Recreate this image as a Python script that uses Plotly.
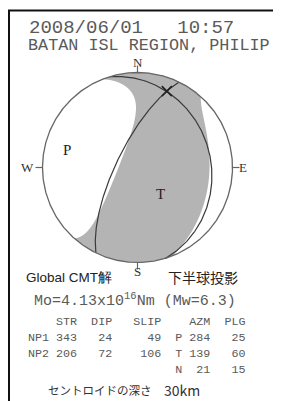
import numpy as np
import plotly.graph_objects as go

# ---------------- data ----------------
date_time = "2008/06/01   10:57"
region = "BATAN ISL REGION, PHILIP"
mo_mant = "4.13"
mo_exp = "16"
mw = "6.3"
depth_km = 30
plane_names = ["NP1", "NP2"]
strike = [343, 206]
dip = [24, 72]
slip = [49, 106]
axis_names = ["P", "T", "N"]
axis_azm = [284, 139, 21]
axis_plg = [25, 60, 15]
# relative principal moments (T, N, P) used for the shaded radiation pattern (estimated)
eig = [1.0, 0.28, -1.3]

# ---------------- layout constants ----------------
W, H = 281, 401          # page size
OFF = 8                  # default body margin of the html page
CX, CY, R = 137.5, 167.5, 95.0
GRAY = "#b4b4b4"
TXT = "#5a5a5a"


def vec(az, pl):
    a, p = np.radians(az), np.radians(pl)
    return np.array([np.cos(p) * np.cos(a), np.cos(p) * np.sin(a), np.sin(p)])


def project(U):
    U = U / np.linalg.norm(U, axis=0)
    pl = np.arcsin(np.clip(U[2], -1, 1))
    az = np.arctan2(U[1], U[0])
    r = R * np.sqrt(2) * np.sin((np.pi / 2 - pl) / 2)
    return CX + r * np.sin(az), CY - r * np.cos(az)


def rim(az_deg):
    a = np.radians(az_deg)
    return CX + R * np.sin(a), CY - R * np.cos(a)


def arc(a0, a1, through, n=200):
    delta = (a1 - a0) % 360
    if (through - a0) % 360 <= delta:
        return a0 + np.linspace(0, delta, n)
    return a0 - np.linspace(0, 360 - delta, n)


def lobe(U, center_az):
    neg = np.where(U[2] < 0)[0]
    if len(neg) == 0:
        return project(U)
    U = np.roll(U, -neg[0], axis=1)
    pos = np.where(U[2] >= 0)[0]
    if len(pos) == 0:
        return None
    seg = U[:, pos[0]:pos[-1] + 1]
    x, y = project(seg)
    az_s = np.degrees(np.arctan2(seg[1, 0], seg[0, 0]))
    az_e = np.degrees(np.arctan2(seg[1, -1], seg[0, -1]))
    rx, ry = rim(arc(az_e, az_s, center_az))
    return np.concatenate([x, rx, x[:1]]), np.concatenate([y, ry, y[:1]])


fig = go.Figure()

# gray disk (compressional background)
ca = np.linspace(0, 360, 721)
cx, cy = rim(ca)
fig.add_trace(go.Scatter(x=cx, y=cy, fill="toself", fillcolor=GRAY, mode="none",
                         hoverinfo="skip"))

# dilatational (white) lobes from the moment tensor cone around P
pv = vec(axis_azm[0], axis_plg[0])
tv = vec(axis_azm[1], axis_plg[1])
nv = vec(axis_azm[2], axis_plg[2])
lt, ln, lp = eig
psi = np.linspace(0, 2 * np.pi, 2881)[:-1]
den = lt * np.cos(psi) ** 2 + ln * np.sin(psi) ** 2
alpha = np.arctan(np.sqrt(-lp / den))
U = np.cos(alpha) * pv[:, None] + np.sin(alpha) * (np.cos(psi) * tv[:, None] + np.sin(psi) * nv[:, None])
for UU, caz in [(U, axis_azm[0]), (-U, (axis_azm[0] + 180) % 360)]:
    res = lobe(UU, caz)
    if res is not None:
        fig.add_trace(go.Scatter(x=res[0], y=res[1], fill="toself", fillcolor="white",
                                 mode="none", hoverinfo="skip"))

# nodal planes
th = np.linspace(0, np.pi, 301)
for s, dp in zip(strike, dip):
    sv = vec(s, 0)
    dv = vec(s + 90, dp)
    Up = np.cos(th) * sv[:, None] + np.sin(th) * dv[:, None]
    x, y = project(Up)
    fig.add_trace(go.Scatter(x=x, y=y, mode="lines", line=dict(color="#3a3a3a", width=1.2),
                             hoverinfo="skip"))

# outline
fig.add_trace(go.Scatter(x=cx, y=cy, mode="lines", line=dict(color="#666666", width=1.3),
                         hoverinfo="skip"))

# ticks
for a in [0, 90, 180, 270]:
    x0, y0 = rim(a)
    rr = np.radians(a)
    fig.add_shape(type="line", x0=x0, y0=y0, x1=x0 + 7 * np.sin(rr), y1=y0 - 7 * np.cos(rr),
                  line=dict(color="#666666", width=1.2))

# N axis marker
nx, ny = project(nv[:, None])
fig.add_trace(go.Scatter(x=nx, y=ny, mode="markers",
                         marker=dict(symbol="x-thin", size=10, color="#222",
                                     line=dict(color="#222", width=1.6)),
                         hoverinfo="skip"))

serif = "Liberation Serif, Times New Roman, serif"
mono = "Liberation Mono, Courier New, monospace"
sans = "Liberation Sans, Arial, sans-serif"
cjk = "Noto Sans CJK JP, sans-serif"


def text(x, y, t, size, color, family, xanchor="left"):
    fig.add_annotation(x=x, y=y, text=t, showarrow=False, xanchor=xanchor, yanchor="middle",
                       font=dict(size=size, color=color, family=family), xref="x", yref="y")


# P and T labels
for i in range(2):
    px, py = project(vec(axis_azm[i], axis_plg[i])[:, None])
    text(px[0], py[0], axis_names[i], 15, "#222", serif, "center")

# compass letters
text(CX, 62, "N", 13, "#333", serif, "center")
text(CX, 271, "S", 13, "#333", serif, "center")
text(27.5, CY, "W", 13, "#333", serif, "center")
text(243, CY, "E", 13, "#333", serif, "center")

nb = "\u00a0"
# titles
text(27, 28, date_time.replace(" ", nb), 19, TXT, mono)
text(26, 45, region.replace(" ", nb), 16.8, TXT, mono)

text(24, 277, "Global CMT解", 13.5, "#222", sans)
text(166, 277, "下半球投影", 14, "#222", cjk)

text(32, 300, f"Mo={mo_mant}x10<sup>{mo_exp}</sup>Nm{nb}(Mw={mw})", 15, TXT, mono)

header = f"{'':4}{'STR':>3}{'DIP':>5}{'SLIP':>7}{'AZM':>7}{'PLG':>5}"
rows = [header]
for i in range(2):
    rows.append(f"{plane_names[i]} {strike[i]:3d}{dip[i]:5d}{slip[i]:7d}  {axis_names[i]} {axis_azm[i]:3d}{axis_plg[i]:5d}")
rows.append(f"{'':19}  {axis_names[2]} {axis_azm[2]:3d}{axis_plg[2]:5d}")
for k, r in enumerate(rows):
    text(26, 321.5 + 16 * k, r.replace(" ", nb), 11.7, TXT, mono)

text(46, 390, "セントロイドの深さ", 11.5, "#333", cjk)
text(162, 390, f"{depth_km}km", 14, "#333", cjk)

# frame
fig.add_shape(type="line", x0=9, y0=H + 5, x1=9, y1=10.5, line=dict(color="#111", width=2))
fig.add_shape(type="line", x0=8, y0=10.5, x1=W + 5, y1=10.5, line=dict(color="#111", width=2))

fig.update_layout(
    width=W - OFF, height=H - OFF, margin=dict(l=0, r=0, t=0, b=0),
    paper_bgcolor="white", plot_bgcolor="white", showlegend=False,
    xaxis=dict(range=[OFF, W], visible=False, fixedrange=True),
    yaxis=dict(range=[H, OFF], visible=False, fixedrange=True),
)
fig.write_html("out.html")
